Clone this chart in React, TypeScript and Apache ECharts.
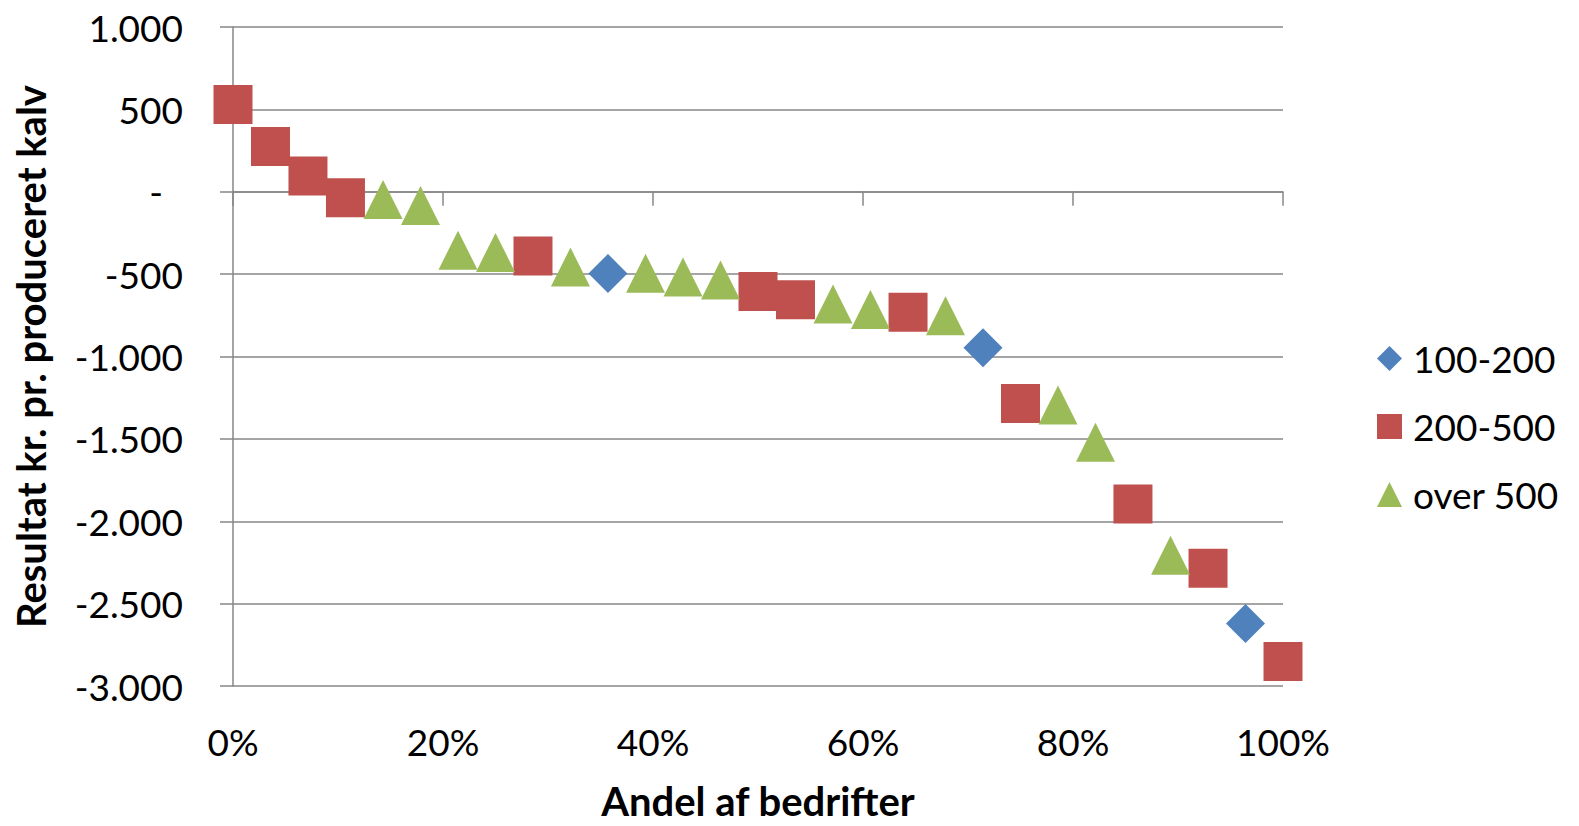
import React, { useEffect, useRef } from "react";
import * as echarts from "echarts";

// Legend / series names
const seriesNames = ["100-200", "200-500", "over 500"];
const seriesColors = ["#4F81BD", "#C0504D", "#9BBB59"];
const seriesSymbols = ["diamond", "rect", "triangle"];

// Share of farms (%) and result (kr. per produced calf) per group
const shareSmall = [35.71, 71.43, 96.43];
const resultSmall = [-496, -947, -2620];

const shareMedium = [0, 3.57, 7.14, 10.71, 28.57, 50.0, 53.57, 64.29, 75.0, 85.71, 92.86, 100];
const resultMedium = [530, 275, 95, -36, -390, -605, -655, -731, -1286, -1895, -2285, -2852];

const shareLarge = [14.29, 17.86, 21.43, 25.0, 32.14, 39.29, 42.86, 46.43, 57.14, 60.71, 67.86, 78.57, 82.14, 89.29];
const resultLarge = [-47, -84, -355, -368, -457, -495, -518, -535, -682, -715, -752, -1295, -1520, -2207];

const xTitle = "Andel af bedrifter";
const yTitle = "Resultat kr. pr. produceret kalv";

const FONT = "Lato";
const GRID_COLOR = "#878787";

function danish(v: number): string {
  if (v === 0) return "{z|-}";
  const sign = v < 0 ? "-" : "";
  const a = Math.abs(v);
  if (a >= 1000) {
    return sign + Math.floor(a / 1000) + "." + String(a % 1000).padStart(3, "0");
  }
  return sign + a;
}

function zip(xs: number[], ys: number[]): number[][] {
  return xs.map((x, i) => [x, ys[i]]);
}

export default function App() {
  const ref = useRef<HTMLDivElement>(null);

  useEffect(() => {
    if (!ref.current) return;
    const chart = echarts.init(ref.current, undefined, { renderer: "svg" });
    const groups = [
      zip(shareSmall, resultSmall),
      zip(shareMedium, resultMedium),
      zip(shareLarge, resultLarge),
    ];
    chart.setOption({
      animation: false,
      backgroundColor: "#ffffff",
      textStyle: { fontFamily: FONT },
      grid: { left: 233, right: 296, top: 27, bottom: 133, containLabel: false },
      xAxis: [
        {
          type: "value",
          min: 0,
          max: 100,
          interval: 20,
          position: "bottom",
          axisLine: { show: false, onZero: false },
          axisTick: { show: false },
          splitLine: { show: false },
          axisLabel: {
            formatter: (v: number) => v + "%",
            fontSize: 37,
            fontFamily: FONT,
            color: "#000",
            margin: 37,
          },
          name: xTitle,
          nameLocation: "middle",
          nameGap: 95,
          nameTextStyle: { fontSize: 40, fontWeight: "bold", fontFamily: FONT, color: "#000" },
        },
        {
          type: "value",
          min: 0,
          max: 100,
          interval: 20,
          position: "bottom",
          axisLine: { show: true, onZero: true, lineStyle: { color: GRID_COLOR, width: 1.5 } },
          axisTick: { show: true, inside: false, length: 14, lineStyle: { color: GRID_COLOR, width: 1.5 } },
          splitLine: { show: false },
          axisLabel: { show: false },
        },
      ],
      yAxis: {
        type: "value",
        min: -3000,
        max: 1000,
        interval: 500,
        axisLine: { show: true, lineStyle: { color: GRID_COLOR, width: 1.5 } },
        axisTick: { show: true, inside: false, length: 13, lineStyle: { color: GRID_COLOR, width: 1.5 } },
        splitLine: { show: true, lineStyle: { color: GRID_COLOR, width: 1.5 } },
        axisLabel: {
          formatter: (v: number) => danish(v),
          fontSize: 37,
          fontFamily: FONT,
          color: "#000",
          margin: 50,
          rich: {
            z: { fontSize: 37, fontFamily: FONT, color: "#000", padding: [0, 20, 0, 0] },
          },
        },
        name: yTitle,
        nameLocation: "middle",
        nameRotate: 90,
        nameGap: 182,
        nameTextStyle: { fontSize: 40, fontWeight: "bold", fontFamily: FONT, color: "#000" },
      },
      legend: {
        orient: "vertical",
        left: 1372,
        top: 335,
        itemWidth: 25,
        itemHeight: 25,
        itemGap: 31,
        textStyle: { fontSize: 37, fontFamily: FONT, color: "#000", padding: [0, 0, 0, 6] },
        data: seriesNames.map((n, i) => ({ name: n, icon: seriesSymbols[i] })),
      },
      series: seriesNames.map((name, i) => ({
        name,
        type: "scatter",
        xAxisIndex: 0,
        symbol: seriesSymbols[i],
        symbolSize: 39,
        itemStyle: { color: seriesColors[i], opacity: 1 },
        emphasis: { disabled: true },
        data: groups[i],
      })),
    });
    return () => chart.dispose();
  }, []);

  return (
    <div
      ref={ref}
      style={{ position: "fixed", left: 0, top: 0, width: 1579, height: 826, background: "#fff" }}
    />
  );
}
